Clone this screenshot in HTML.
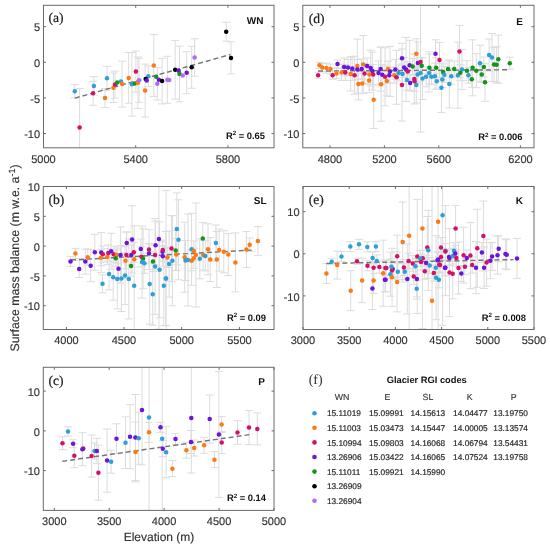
<!DOCTYPE html><html><head><meta charset="utf-8"><style>html,body{margin:0;padding:0;background:#fff;width:550px;height:548px;overflow:hidden}svg{display:block;will-change:transform;text-rendering:geometricPrecision}</style></head><body>
<svg width="550" height="548" viewBox="0 0 550 548">
<rect width="550" height="548" fill="#fff"/>
<path d="M74.8 84.6V98.0M70.8 84.6h8M70.8 98.0h8M79.6 88.5V147.8M75.6 88.5h8M93.9 76.7V95.1M89.9 76.7h8M89.9 95.1h8M93.1 81.3V105.3M89.1 81.3h8M89.1 105.3h8M107.0 66.3V90.3M103.0 66.3h8M103.0 90.3h8M105.0 88.6V107.6M101.0 88.6h8M101.0 107.6h8M113.4 73.1V102.5M109.4 73.1h8M109.4 102.5h8M115.0 71.1V98.1M111.0 71.1h8M111.0 98.1h8M122.1 61.1V107.1M118.1 61.1h8M118.1 107.1h8M128.7 52.5V103.3M124.7 52.5h8M124.7 103.3h8M135.9 51.0V92.2M131.9 51.0h8M131.9 92.2h8M131.9 52.5V116.1M127.9 52.5h8M127.9 116.1h8M137.9 57.0V108.4M133.9 57.0h8M133.9 108.4h8M139.0 58.3V102.3M135.0 58.3h8M135.0 102.3h8M145.1 64.1V117.1M141.1 64.1h8M141.1 117.1h8M148.3 66.0V86.6M144.3 66.0h8M144.3 86.6h8M153.8 34.6V96.6M149.8 34.6h8M149.8 96.6h8M157.3 67.6V100.0M153.3 67.6h8M153.3 100.0h8M162.1 58.3V103.9M158.1 58.3h8M158.1 103.9h8M167.3 56.3V103.3M163.3 56.3h8M163.3 103.3h8M175.2 40.4V99.0M171.2 40.4h8M171.2 99.0h8M179.5 46.2V101.8M175.5 46.2h8M175.5 101.8h8M186.7 51.7V93.7M182.7 51.7h8M182.7 93.7h8M191.7 46.3V88.3M187.7 46.3h8M187.7 88.3h8M194.6 38.8V76.2M190.6 38.8h8M190.6 76.2h8M226.2 22.2V41.2M222.2 22.2h8M222.2 41.2h8M231.0 41.9V73.9M227.0 41.9h8M227.0 73.9h8" stroke="#dcdcdc" stroke-width="1" fill="none"/>
<line x1="74.8" y1="98.1" x2="230.5" y2="54.5" stroke="#767676" stroke-width="1.45" stroke-dasharray="5 3"/>
<circle cx="74.8" cy="91.3" r="2.25" fill="#2f9fd6"/>
<circle cx="79.6" cy="127.5" r="2.25" fill="#d0126c"/>
<circle cx="93.9" cy="85.9" r="2.25" fill="#2f9fd6"/>
<circle cx="93.1" cy="93.3" r="2.25" fill="#d0126c"/>
<circle cx="107.0" cy="78.3" r="2.25" fill="#2f9fd6"/>
<circle cx="105.0" cy="98.1" r="2.25" fill="#fa7a14"/>
<circle cx="113.4" cy="87.8" r="2.25" fill="#fa7a14"/>
<circle cx="115.0" cy="84.6" r="2.25" fill="#d0126c"/>
<circle cx="117.2" cy="82.5" r="2.25" fill="#14941a"/>
<circle cx="120.9" cy="81.4" r="2.25" fill="#2f9fd6"/>
<circle cx="122.1" cy="84.1" r="2.25" fill="#fa7a14"/>
<circle cx="128.7" cy="77.9" r="2.25" fill="#fa7a14"/>
<circle cx="135.9" cy="71.6" r="2.25" fill="#d0126c"/>
<circle cx="131.9" cy="84.3" r="2.25" fill="#2f9fd6"/>
<circle cx="134.8" cy="83.5" r="2.25" fill="#14941a"/>
<circle cx="137.9" cy="82.7" r="2.25" fill="#fa7a14"/>
<circle cx="139.0" cy="80.3" r="2.25" fill="#b06cf8"/>
<circle cx="145.1" cy="90.6" r="2.25" fill="#fa7a14"/>
<circle cx="148.3" cy="76.3" r="2.25" fill="#2f9fd6"/>
<circle cx="145.7" cy="79.0" r="2.25" fill="#000000"/>
<circle cx="146.7" cy="80.6" r="2.25" fill="#6a14dc"/>
<circle cx="153.8" cy="65.6" r="2.25" fill="#fa7a14"/>
<circle cx="156.2" cy="76.8" r="2.25" fill="#14941a"/>
<circle cx="157.3" cy="83.8" r="2.25" fill="#b06cf8"/>
<circle cx="158.9" cy="79.8" r="2.25" fill="#6a14dc"/>
<circle cx="162.1" cy="81.1" r="2.25" fill="#000000"/>
<circle cx="167.3" cy="79.8" r="2.25" fill="#b06cf8"/>
<circle cx="169.2" cy="80.0" r="2.25" fill="#b06cf8"/>
<circle cx="175.2" cy="69.7" r="2.25" fill="#000000"/>
<circle cx="178.7" cy="70.8" r="2.25" fill="#6a14dc"/>
<circle cx="179.5" cy="74.0" r="2.25" fill="#14941a"/>
<circle cx="182.7" cy="75.6" r="2.25" fill="#b06cf8"/>
<circle cx="186.7" cy="72.7" r="2.25" fill="#6a14dc"/>
<circle cx="191.7" cy="67.3" r="2.25" fill="#000000"/>
<circle cx="194.6" cy="57.5" r="2.25" fill="#b06cf8"/>
<circle cx="226.2" cy="31.7" r="2.25" fill="#000000"/>
<circle cx="231.0" cy="57.9" r="2.25" fill="#000000"/>
<rect x="43.5" y="5.3" width="230.5" height="142.5" fill="none" stroke="#6a6a6a" stroke-width="1"/>
<path d="M43.5 147.8v-2.5M43.5 5.3v2.5M135.7 147.8v-2.5M135.7 5.3v2.5M227.9 147.8v-2.5M227.9 5.3v2.5M43.5 26.7h2.5M274 26.7h-2.5M43.5 62.3h2.5M274 62.3h-2.5M43.5 97.9h2.5M274 97.9h-2.5M43.5 133.6h2.5M274 133.6h-2.5" stroke="#6a6a6a" stroke-width="1"/>
<text x="43.5" y="163.1" font-family='"Liberation Sans", sans-serif' font-size="11" fill="#333" stroke="#333" stroke-width="0.15" text-anchor="middle">5000</text>
<text x="135.7" y="163.1" font-family='"Liberation Sans", sans-serif' font-size="11" fill="#333" stroke="#333" stroke-width="0.15" text-anchor="middle">5400</text>
<text x="227.9" y="163.1" font-family='"Liberation Sans", sans-serif' font-size="11" fill="#333" stroke="#333" stroke-width="0.15" text-anchor="middle">5800</text>
<text x="40.1" y="31.3" font-family='"Liberation Sans", sans-serif' font-size="11" fill="#333" stroke="#333" stroke-width="0.15" text-anchor="end">5</text>
<text x="40.1" y="66.9" font-family='"Liberation Sans", sans-serif' font-size="11" fill="#333" stroke="#333" stroke-width="0.15" text-anchor="end">0</text>
<text x="40.1" y="102.5" font-family='"Liberation Sans", sans-serif' font-size="11" fill="#333" stroke="#333" stroke-width="0.15" text-anchor="end">-5</text>
<text x="40.1" y="138.2" font-family='"Liberation Sans", sans-serif' font-size="11" fill="#333" stroke="#333" stroke-width="0.15" text-anchor="end">-10</text>
<text x="48.4" y="22" font-family='"Liberation Serif", serif' font-size="13.6" fill="#222" stroke="#222" stroke-width="0.2">(a)</text>
<text x="263.5" y="24.3" font-family='"Liberation Sans", sans-serif' font-size="10" font-weight="bold" fill="#111" text-anchor="end">WN</text>
<text x="265" y="138.5" font-family='"Liberation Sans", sans-serif' font-size="9.35" font-weight="bold" fill="#111" text-anchor="end">R<tspan font-size="6.2" dy="-3.3">2</tspan><tspan dy="3.3"> = 0.65</tspan></text>
<path d="M318.1 72.2V78.2M314.1 72.2h8M314.1 78.2h8M319.5 62.3V68.3M315.5 62.3h8M315.5 68.3h8M322.3 63.5V71.5M318.3 63.5h8M318.3 71.5h8M326.4 63.1V73.1M322.4 63.1h8M322.4 73.1h8M330.5 64.1V74.1M326.5 64.1h8M326.5 74.1h8M332.6 71.2V79.2M328.6 71.2h8M328.6 79.2h8M337.5 60.0V68.0M333.5 60.0h8M333.5 68.0h8M336.5 68.5V78.5M332.5 68.5h8M332.5 78.5h8M341.5 64.4V80.4M337.5 64.4h8M337.5 80.4h8M344.1 58.0V76.0M340.1 58.0h8M340.1 76.0h8M348.0 59.5V75.5M344.0 59.5h8M344.0 75.5h8M345.3 64.4V80.4M341.3 64.4h8M341.3 80.4h8M352.3 56.6V80.6M348.3 56.6h8M348.3 80.6h8M350.7 57.0V91.0M346.7 57.0h8M346.7 91.0h8M354.6 56.2V94.2M350.6 56.2h8M350.6 94.2h8M357.3 39.1V93.1M353.3 39.1h8M353.3 93.1h8M357.3 59.4V79.4M353.3 59.4h8M353.3 79.4h8M361.7 59.1V79.1M357.7 59.1h8M357.7 79.1h8M358.4 67.9V99.9M354.4 67.9h8M354.4 99.9h8M362.2 73.4V93.4M358.2 73.4h8M358.2 93.4h8M363.3 35.5V93.5M359.3 35.5h8M359.3 93.5h8M364.5 63.5V83.5M360.5 63.5h8M360.5 83.5h8M367.1 58.1V74.1M363.1 58.1h8M363.1 74.1h8M370.7 50.1V86.1M366.7 50.1h8M366.7 86.1h8M372.4 52.1V90.1M368.4 52.1h8M368.4 90.1h8M369.1 68.6V92.6M365.1 68.6h8M365.1 92.6h8M369.4 64.4V84.4M365.4 64.4h8M365.4 84.4h8M373.7 71.2V128.4M369.7 71.2h8M369.7 128.4h8M373.2 64.4V84.4M369.2 64.4h8M369.2 84.4h8M378.5 61.0V85.0M374.5 61.0h8M374.5 85.0h8M380.6 47.1V91.1M376.6 47.1h8M376.6 91.1h8M382.3 64.7V84.7M378.3 64.7h8M378.3 84.7h8M385.0 47.8V105.8M381.0 47.8h8M381.0 105.8h8M381.1 47.2V121.2M377.1 47.2h8M377.1 121.2h8M386.9 65.9V95.9M382.9 65.9h8M382.9 95.9h8M388.0 61.1V77.1M384.0 61.1h8M384.0 77.1h8M390.0 46.4V96.4M386.0 46.4h8M386.0 96.4h8M389.3 67.2V83.2M385.3 67.2h8M385.3 83.2h8M394.2 67.2V83.2M390.2 67.2h8M390.2 83.2h8M396.5 50.3V104.3M392.5 50.3h8M392.5 104.3h8M395.4 59.4V79.4M391.4 59.4h8M391.4 79.4h8M398.7 65.0V81.0M394.7 65.0h8M394.7 81.0h8M402.5 64.0V84.0M398.5 64.0h8M398.5 84.0h8M402.0 43.3V73.3M398.0 43.3h8M398.0 73.3h8M402.0 49.0V121.0M398.0 49.0h8M398.0 121.0h8M404.1 57.5V77.5M400.1 57.5h8M400.1 77.5h8M406.1 37.4V101.4M402.1 37.4h8M402.1 101.4h8M407.7 61.4V81.4M403.7 61.4h8M403.7 81.4h8M406.9 70.1V90.1M402.9 70.1h8M402.9 90.1h8M409.7 40.3V90.3M405.7 40.3h8M405.7 90.3h8M412.7 58.5V74.5M408.7 58.5h8M408.7 74.5h8M414.3 54.0V104.0M410.3 54.0h8M410.3 104.0h8M414.6 71.3V91.3M410.6 71.3h8M410.6 91.3h8M410.2 74.9V90.9M406.2 74.9h8M406.2 90.9h8M416.3 67.0V103.0M412.3 67.0h8M412.3 103.0h8M416.3 38.8V68.8M412.3 38.8h8M412.3 68.8h8M417.9 41.9V83.9M413.9 41.9h8M413.9 83.9h8M420.5 5.3V132.0M416.5 132.0h8M421.7 57.8V73.8M417.7 57.8h8M417.7 73.8h8M417.6 66.4V82.4M413.6 66.4h8M413.6 82.4h8M420.5 65.0V81.0M416.5 65.0h8M416.5 81.0h8M422.5 57.5V99.5M418.5 57.5h8M418.5 99.5h8M426.1 66.8V86.8M422.1 66.8h8M422.1 86.8h8M429.4 51.8V83.8M425.4 51.8h8M425.4 83.8h8M429.1 54.0V92.0M425.1 54.0h8M425.1 92.0h8M431.5 68.8V84.8M427.5 68.8h8M427.5 84.8h8M435.5 39.8V67.8M431.5 39.8h8M431.5 67.8h8M439.5 42.4V77.4M435.5 42.4h8M435.5 77.4h8M436.2 57.8V77.8M432.2 57.8h8M432.2 77.8h8M434.9 63.3V89.3M430.9 63.3h8M430.9 89.3h8M436.8 73.3V89.3M432.8 73.3h8M432.8 89.3h8M441.4 63.2V112.4M437.4 63.2h8M437.4 112.4h8M442.3 71.6V87.6M438.3 71.6h8M438.3 87.6h8M443.1 63.9V79.9M439.1 63.9h8M439.1 79.9h8M444.4 66.7V82.7M440.4 66.7h8M440.4 82.7h8M448.0 61.1V77.1M444.0 61.1h8M444.0 77.1h8M454.2 61.1V77.1M450.2 61.1h8M450.2 77.1h8M449.3 59.9V107.9M445.3 59.9h8M445.3 107.9h8M451.3 68.3V84.3M447.3 68.3h8M447.3 84.3h8M459.5 25.4V77.4M455.5 25.4h8M455.5 77.4h8M457.9 42.2V108.2M453.9 42.2h8M453.9 108.2h8M462.0 49.4V89.4M458.0 49.4h8M458.0 89.4h8M460.3 64.7V80.7M456.3 64.7h8M456.3 80.7h8M466.9 60.7V80.7M462.9 60.7h8M462.9 80.7h8M468.5 67.2V83.2M464.5 67.2h8M464.5 83.2h8M472.6 39.8V95.8M468.6 39.8h8M468.6 95.8h8M476.3 53.7V87.7M472.3 53.7h8M472.3 87.7h8M471.8 71.3V87.3M467.8 71.3h8M467.8 87.3h8M480.0 45.2V81.2M476.0 45.2h8M476.0 81.2h8M483.8 57.0V77.0M479.8 57.0h8M479.8 77.0h8M481.7 66.4V82.4M477.7 66.4h8M477.7 82.4h8M485.0 63.3V101.3M481.0 63.3h8M481.0 101.3h8M489.1 39.0V71.0M485.1 39.0h8M485.1 71.0h8M492.0 33.6V81.6M488.0 33.6h8M488.0 81.6h8M494.0 47.5V81.5M490.0 47.5h8M490.0 81.5h8M496.6 46.8V82.8M492.6 46.8h8M492.6 82.8h8M498.3 35.2V83.2M494.3 35.2h8M494.3 83.2h8M509.8 57.2V69.2M505.8 57.2h8M505.8 69.2h8" stroke="#dcdcdc" stroke-width="1" fill="none"/>
<line x1="318" y1="71" x2="509.4" y2="69.8" stroke="#767676" stroke-width="1.45" stroke-dasharray="5 3"/>
<circle cx="318.1" cy="75.2" r="2.25" fill="#d0126c"/>
<circle cx="319.5" cy="65.3" r="2.25" fill="#fa7a14"/>
<circle cx="322.3" cy="67.5" r="2.25" fill="#fa7a14"/>
<circle cx="326.4" cy="68.1" r="2.25" fill="#fa7a14"/>
<circle cx="330.5" cy="69.1" r="2.25" fill="#fa7a14"/>
<circle cx="332.6" cy="75.2" r="2.25" fill="#d0126c"/>
<circle cx="337.5" cy="64.0" r="2.25" fill="#6a14dc"/>
<circle cx="336.5" cy="73.5" r="2.25" fill="#fa7a14"/>
<circle cx="341.5" cy="72.4" r="2.25" fill="#fa7a14"/>
<circle cx="344.1" cy="67.0" r="2.25" fill="#6a14dc"/>
<circle cx="348.0" cy="67.5" r="2.25" fill="#6a14dc"/>
<circle cx="345.3" cy="72.4" r="2.25" fill="#d0126c"/>
<circle cx="352.3" cy="68.6" r="2.25" fill="#6a14dc"/>
<circle cx="350.7" cy="74.0" r="2.25" fill="#fa7a14"/>
<circle cx="354.6" cy="75.2" r="2.25" fill="#d0126c"/>
<circle cx="357.3" cy="66.1" r="2.25" fill="#fa7a14"/>
<circle cx="357.3" cy="69.4" r="2.25" fill="#6a14dc"/>
<circle cx="361.7" cy="69.1" r="2.25" fill="#6a14dc"/>
<circle cx="358.4" cy="83.9" r="2.25" fill="#fa7a14"/>
<circle cx="362.2" cy="83.4" r="2.25" fill="#fa7a14"/>
<circle cx="363.3" cy="64.5" r="2.25" fill="#fa7a14"/>
<circle cx="364.5" cy="73.5" r="2.25" fill="#d0126c"/>
<circle cx="367.1" cy="66.1" r="2.25" fill="#6a14dc"/>
<circle cx="370.7" cy="68.1" r="2.25" fill="#6a14dc"/>
<circle cx="372.4" cy="71.1" r="2.25" fill="#6a14dc"/>
<circle cx="369.1" cy="80.6" r="2.25" fill="#fa7a14"/>
<circle cx="369.4" cy="74.4" r="2.25" fill="#fa7a14"/>
<circle cx="373.7" cy="99.8" r="2.25" fill="#fa7a14"/>
<circle cx="373.2" cy="74.4" r="2.25" fill="#d0126c"/>
<circle cx="378.5" cy="73.0" r="2.25" fill="#6a14dc"/>
<circle cx="380.6" cy="69.1" r="2.25" fill="#6a14dc"/>
<circle cx="382.3" cy="74.7" r="2.25" fill="#6a14dc"/>
<circle cx="385.0" cy="76.8" r="2.25" fill="#d0126c"/>
<circle cx="381.1" cy="84.2" r="2.25" fill="#fa7a14"/>
<circle cx="386.9" cy="80.9" r="2.25" fill="#fa7a14"/>
<circle cx="388.0" cy="69.1" r="2.25" fill="#fa7a14"/>
<circle cx="390.0" cy="71.4" r="2.25" fill="#6a14dc"/>
<circle cx="389.3" cy="75.2" r="2.25" fill="#6a14dc"/>
<circle cx="394.2" cy="75.2" r="2.25" fill="#fa7a14"/>
<circle cx="396.5" cy="77.3" r="2.25" fill="#d0126c"/>
<circle cx="395.4" cy="69.4" r="2.25" fill="#6a14dc"/>
<circle cx="398.7" cy="73.0" r="2.25" fill="#2f9fd6"/>
<circle cx="402.5" cy="74.0" r="2.25" fill="#2f9fd6"/>
<circle cx="402.0" cy="58.3" r="2.25" fill="#6a14dc"/>
<circle cx="402.0" cy="85.0" r="2.25" fill="#d0126c"/>
<circle cx="404.1" cy="67.5" r="2.25" fill="#6a14dc"/>
<circle cx="406.1" cy="69.4" r="2.25" fill="#6a14dc"/>
<circle cx="407.7" cy="71.4" r="2.25" fill="#d0126c"/>
<circle cx="406.9" cy="80.1" r="2.25" fill="#2f9fd6"/>
<circle cx="409.7" cy="65.3" r="2.25" fill="#6a14dc"/>
<circle cx="412.7" cy="66.5" r="2.25" fill="#14941a"/>
<circle cx="414.3" cy="79.0" r="2.25" fill="#d0126c"/>
<circle cx="414.6" cy="81.3" r="2.25" fill="#d0126c"/>
<circle cx="410.2" cy="82.9" r="2.25" fill="#6a14dc"/>
<circle cx="416.3" cy="85.0" r="2.25" fill="#2f9fd6"/>
<circle cx="416.3" cy="53.8" r="2.25" fill="#fa7a14"/>
<circle cx="417.9" cy="62.9" r="2.25" fill="#6a14dc"/>
<circle cx="420.5" cy="62.0" r="2.25" fill="#d0126c"/>
<circle cx="421.7" cy="65.8" r="2.25" fill="#14941a"/>
<circle cx="417.6" cy="74.4" r="2.25" fill="#2f9fd6"/>
<circle cx="420.5" cy="73.0" r="2.25" fill="#2f9fd6"/>
<circle cx="422.5" cy="78.5" r="2.25" fill="#2f9fd6"/>
<circle cx="426.1" cy="76.8" r="2.25" fill="#2f9fd6"/>
<circle cx="429.4" cy="67.8" r="2.25" fill="#14941a"/>
<circle cx="429.1" cy="73.0" r="2.25" fill="#2f9fd6"/>
<circle cx="431.5" cy="76.8" r="2.25" fill="#2f9fd6"/>
<circle cx="435.5" cy="53.8" r="2.25" fill="#6a14dc"/>
<circle cx="439.5" cy="59.9" r="2.25" fill="#d0126c"/>
<circle cx="436.2" cy="67.8" r="2.25" fill="#14941a"/>
<circle cx="434.9" cy="76.3" r="2.25" fill="#2f9fd6"/>
<circle cx="436.8" cy="81.3" r="2.25" fill="#2f9fd6"/>
<circle cx="441.4" cy="87.8" r="2.25" fill="#2f9fd6"/>
<circle cx="442.3" cy="79.6" r="2.25" fill="#2f9fd6"/>
<circle cx="443.1" cy="71.9" r="2.25" fill="#14941a"/>
<circle cx="444.4" cy="74.7" r="2.25" fill="#2f9fd6"/>
<circle cx="448.0" cy="69.1" r="2.25" fill="#14941a"/>
<circle cx="454.2" cy="69.1" r="2.25" fill="#14941a"/>
<circle cx="449.3" cy="83.9" r="2.25" fill="#2f9fd6"/>
<circle cx="451.3" cy="76.3" r="2.25" fill="#2f9fd6"/>
<circle cx="459.5" cy="51.4" r="2.25" fill="#d0126c"/>
<circle cx="457.9" cy="75.2" r="2.25" fill="#2f9fd6"/>
<circle cx="462.0" cy="69.4" r="2.25" fill="#2f9fd6"/>
<circle cx="460.3" cy="72.7" r="2.25" fill="#14941a"/>
<circle cx="466.9" cy="70.7" r="2.25" fill="#14941a"/>
<circle cx="468.5" cy="75.2" r="2.25" fill="#2f9fd6"/>
<circle cx="472.6" cy="67.8" r="2.25" fill="#14941a"/>
<circle cx="476.3" cy="70.7" r="2.25" fill="#14941a"/>
<circle cx="471.8" cy="79.3" r="2.25" fill="#14941a"/>
<circle cx="480.0" cy="63.2" r="2.25" fill="#2f9fd6"/>
<circle cx="483.8" cy="67.0" r="2.25" fill="#14941a"/>
<circle cx="481.7" cy="74.4" r="2.25" fill="#14941a"/>
<circle cx="485.0" cy="82.3" r="2.25" fill="#14941a"/>
<circle cx="489.1" cy="55.0" r="2.25" fill="#2f9fd6"/>
<circle cx="492.0" cy="57.6" r="2.25" fill="#2f9fd6"/>
<circle cx="494.0" cy="64.5" r="2.25" fill="#14941a"/>
<circle cx="496.6" cy="64.8" r="2.25" fill="#14941a"/>
<circle cx="498.3" cy="59.2" r="2.25" fill="#14941a"/>
<circle cx="509.8" cy="63.2" r="2.25" fill="#14941a"/>
<rect x="302.8" y="5.3" width="231.2" height="142.5" fill="none" stroke="#6a6a6a" stroke-width="1"/>
<path d="M330.0 147.8v-2.5M330.0 5.3v2.5M384.4 147.8v-2.5M384.4 5.3v2.5M438.8 147.8v-2.5M438.8 5.3v2.5M520.4 147.8v-2.5M520.4 5.3v2.5M302.8 26.7h2.5M534 26.7h-2.5M302.8 62.3h2.5M534 62.3h-2.5M302.8 97.9h2.5M534 97.9h-2.5M302.8 133.6h2.5M534 133.6h-2.5" stroke="#6a6a6a" stroke-width="1"/>
<text x="330.0" y="162.7" font-family='"Liberation Sans", sans-serif' font-size="11" fill="#333" stroke="#333" stroke-width="0.15" text-anchor="middle">4800</text>
<text x="384.4" y="162.7" font-family='"Liberation Sans", sans-serif' font-size="11" fill="#333" stroke="#333" stroke-width="0.15" text-anchor="middle">5200</text>
<text x="438.8" y="162.7" font-family='"Liberation Sans", sans-serif' font-size="11" fill="#333" stroke="#333" stroke-width="0.15" text-anchor="middle">5600</text>
<text x="520.4" y="162.7" font-family='"Liberation Sans", sans-serif' font-size="11" fill="#333" stroke="#333" stroke-width="0.15" text-anchor="middle">6200</text>
<text x="299.4" y="31.3" font-family='"Liberation Sans", sans-serif' font-size="11" fill="#333" stroke="#333" stroke-width="0.15" text-anchor="end">5</text>
<text x="299.4" y="66.9" font-family='"Liberation Sans", sans-serif' font-size="11" fill="#333" stroke="#333" stroke-width="0.15" text-anchor="end">0</text>
<text x="299.4" y="102.5" font-family='"Liberation Sans", sans-serif' font-size="11" fill="#333" stroke="#333" stroke-width="0.15" text-anchor="end">-5</text>
<text x="299.4" y="138.2" font-family='"Liberation Sans", sans-serif' font-size="11" fill="#333" stroke="#333" stroke-width="0.15" text-anchor="end">-10</text>
<text x="308.8" y="23" font-family='"Liberation Serif", serif' font-size="13.6" fill="#222" stroke="#222" stroke-width="0.2">(d)</text>
<text x="523" y="24.8" font-family='"Liberation Sans", sans-serif' font-size="10" font-weight="bold" fill="#111" text-anchor="end">E</text>
<text x="522.5" y="140.0" font-family='"Liberation Sans", sans-serif' font-size="9.35" font-weight="bold" fill="#111" text-anchor="end">R<tspan font-size="6.2" dy="-3.3">2</tspan><tspan dy="3.3"> = 0.006</tspan></text>
<path d="M70.5 256.6V266.6M66.5 256.6h8M66.5 266.6h8M75.4 248.4V258.4M71.4 248.4h8M71.4 258.4h8M79.2 260.5V277.5M75.2 260.5h8M75.2 277.5h8M87.7 249.2V265.2M83.7 249.2h8M83.7 265.2h8M85.3 249.1V274.1M81.3 249.1h8M81.3 274.1h8M90.7 249.7V281.7M86.7 249.7h8M86.7 281.7h8M94.8 234.3V270.3M90.8 234.3h8M90.8 270.3h8M101.2 232.6V272.6M97.2 232.6h8M97.2 272.6h8M102.8 246.2V262.2M98.8 246.2h8M98.8 262.2h8M100.9 249.8V265.8M96.9 249.8h8M96.9 265.8h8M102.5 274.8V292.8M98.5 274.8h8M98.5 292.8h8M107.4 248.7V264.7M103.4 248.7h8M103.4 264.7h8M108.3 244.9V260.9M104.3 244.9h8M104.3 260.9h8M111.1 233.3V269.3M107.1 233.3h8M107.1 269.3h8M113.7 246.2V262.2M109.7 246.2h8M109.7 262.2h8M109.1 257.9V289.9M105.1 257.9h8M105.1 289.9h8M113.2 254.2V300.2M109.2 254.2h8M109.2 300.2h8M116.8 247.0V263.0M112.8 247.0h8M112.8 263.0h8M120.6 227.0V283.0M116.6 227.0h8M116.6 283.0h8M115.7 250.3V266.3M111.7 250.3h8M111.7 266.3h8M118.5 258.7V278.7M114.5 258.7h8M114.5 278.7h8M117.3 248.9V308.9M113.3 248.9h8M113.3 308.9h8M121.4 245.5V311.5M117.4 245.5h8M117.4 311.5h8M125.0 246.6V304.6M121.0 246.6h8M121.0 304.6h8M128.8 238.9V318.9M124.8 238.9h8M124.8 318.9h8M134.2 225.8V329.5M130.2 225.8h8M126.7 232.0V254.0M122.7 232.0h8M122.7 254.0h8M132.1 205.8V273.0M128.1 205.8h8M128.1 273.0h8M126.4 232.0V278.0M122.4 232.0h8M122.4 278.0h8M131.3 245.0V265.0M127.3 245.0h8M127.3 265.0h8M133.8 242.3V262.3M129.8 242.3h8M129.8 262.3h8M125.5 252.8V268.8M121.5 252.8h8M121.5 268.8h8M134.2 251.2V267.2M130.2 251.2h8M130.2 267.2h8M131.0 256.1V276.1M127.0 256.1h8M127.0 276.1h8M140.8 239.0V259.0M136.8 239.0h8M136.8 259.0h8M141.5 246.7V266.7M137.5 246.7h8M137.5 266.7h8M143.1 228.8V288.8M139.1 228.8h8M139.1 288.8h8M144.4 253.3V273.3M140.4 253.3h8M140.4 273.3h8M142.0 226.1V298.1M138.0 226.1h8M138.0 298.1h8M149.0 229.6V269.6M145.0 229.6h8M145.0 269.6h8M149.0 243.4V263.4M145.0 243.4h8M145.0 263.4h8M155.6 221.2V269.2M151.6 221.2h8M151.6 269.2h8M158.9 186.5V329.1M154.9 329.1h8M155.1 245.0V265.0M151.1 245.0h8M151.1 265.0h8M162.5 241.8V261.8M158.5 241.8h8M158.5 261.8h8M162.8 240.1V260.1M158.8 240.1h8M158.8 260.1h8M162.8 246.2V266.2M158.8 246.2h8M158.8 266.2h8M167.4 247.5V267.5M163.4 247.5h8M163.4 267.5h8M171.5 215.5V281.5M167.5 215.5h8M167.5 281.5h8M153.0 251.6V271.6M149.0 251.6h8M149.0 271.6h8M155.1 218.5V314.5M151.1 218.5h8M151.1 314.5h8M159.6 221.8V317.8M155.6 221.8h8M155.6 317.8h8M169.1 231.1V297.1M165.1 231.1h8M165.1 297.1h8M172.4 215.8V305.8M168.4 215.8h8M168.4 305.8h8M165.8 231.5V325.5M161.8 231.5h8M161.8 325.5h8M149.7 244.1V324.1M145.7 244.1h8M145.7 324.1h8M163.8 245.8V325.8M159.8 245.8h8M159.8 325.8h8M152.7 263.3V325.3M148.7 263.3h8M148.7 325.3h8M176.8 192.9V264.9M172.8 192.9h8M172.8 264.9h8M178.5 199.8V279.8M174.5 199.8h8M174.5 279.8h8M166.1 190.5V329.5M162.1 190.5h8M175.7 230.6V270.6M171.7 230.6h8M171.7 270.6h8M176.2 238.6V270.6M172.2 238.6h8M172.2 270.6h8M184.7 222.2V292.2M180.7 222.2h8M180.7 292.2h8M185.5 240.5V280.5M181.5 240.5h8M181.5 280.5h8M188.0 214.0V306.0M184.0 214.0h8M184.0 306.0h8M191.6 213.3V285.3M187.6 213.3h8M187.6 285.3h8M193.8 240.9V260.9M189.8 240.9h8M189.8 260.9h8M195.9 203.0V307.0M191.9 203.0h8M191.9 307.0h8M193.8 248.3V268.3M189.8 248.3h8M189.8 268.3h8M191.6 250.8V270.8M187.6 250.8h8M187.6 270.8h8M199.8 238.8V278.8M195.8 238.8h8M195.8 278.8h8M202.8 222.6V254.6M198.8 222.6h8M198.8 254.6h8M203.1 240.0V270.0M199.1 240.0h8M199.1 270.0h8M205.3 240.9V270.9M201.3 240.9h8M201.3 270.9h8M208.0 223.8V274.8M204.0 223.8h8M204.0 274.8h8M210.2 237.5V281.5M206.2 237.5h8M206.2 281.5h8M215.9 225.0V261.0M211.9 225.0h8M211.9 261.0h8M216.8 231.5V287.5M212.8 231.5h8M212.8 287.5h8M219.2 229.1V271.1M215.2 229.1h8M215.2 271.1h8M223.8 230.8V272.8M219.8 230.8h8M219.8 272.8h8M228.3 233.6V275.6M224.3 233.6h8M224.3 275.6h8M235.4 232.9V291.9M231.4 232.9h8M231.4 291.9h8M246.4 231.6V267.6M242.4 231.6h8M242.4 267.6h8M249.7 238.0V251.4M245.7 238.0h8M245.7 251.4h8M257.9 226.6V255.6M253.9 226.6h8M253.9 255.6h8" stroke="#dcdcdc" stroke-width="1" fill="none"/>
<line x1="71" y1="260" x2="254" y2="250" stroke="#767676" stroke-width="1.45" stroke-dasharray="5 3"/>
<circle cx="70.5" cy="261.6" r="2.25" fill="#6a14dc"/>
<circle cx="75.4" cy="253.4" r="2.25" fill="#fa7a14"/>
<circle cx="79.2" cy="269.0" r="2.25" fill="#6a14dc"/>
<circle cx="87.7" cy="257.2" r="2.25" fill="#fa7a14"/>
<circle cx="85.3" cy="261.6" r="2.25" fill="#6a14dc"/>
<circle cx="90.7" cy="265.7" r="2.25" fill="#6a14dc"/>
<circle cx="94.8" cy="252.3" r="2.25" fill="#6a14dc"/>
<circle cx="101.2" cy="252.6" r="2.25" fill="#6a14dc"/>
<circle cx="102.8" cy="254.2" r="2.25" fill="#d0126c"/>
<circle cx="100.9" cy="257.8" r="2.25" fill="#fa7a14"/>
<circle cx="102.5" cy="283.8" r="2.25" fill="#2f9fd6"/>
<circle cx="107.4" cy="256.7" r="2.25" fill="#fa7a14"/>
<circle cx="108.3" cy="252.9" r="2.25" fill="#d0126c"/>
<circle cx="111.1" cy="251.3" r="2.25" fill="#6a14dc"/>
<circle cx="113.7" cy="254.2" r="2.25" fill="#d0126c"/>
<circle cx="109.1" cy="273.9" r="2.25" fill="#2f9fd6"/>
<circle cx="113.2" cy="277.2" r="2.25" fill="#2f9fd6"/>
<circle cx="116.8" cy="255.0" r="2.25" fill="#fa7a14"/>
<circle cx="120.6" cy="255.0" r="2.25" fill="#6a14dc"/>
<circle cx="115.7" cy="258.3" r="2.25" fill="#14941a"/>
<circle cx="118.5" cy="268.7" r="2.25" fill="#6a14dc"/>
<circle cx="117.3" cy="278.9" r="2.25" fill="#2f9fd6"/>
<circle cx="121.4" cy="278.5" r="2.25" fill="#2f9fd6"/>
<circle cx="125.0" cy="275.6" r="2.25" fill="#2f9fd6"/>
<circle cx="128.8" cy="278.9" r="2.25" fill="#2f9fd6"/>
<circle cx="134.2" cy="285.8" r="2.25" fill="#2f9fd6"/>
<circle cx="126.7" cy="243.0" r="2.25" fill="#6a14dc"/>
<circle cx="132.1" cy="239.4" r="2.25" fill="#6a14dc"/>
<circle cx="126.4" cy="255.0" r="2.25" fill="#d0126c"/>
<circle cx="131.3" cy="255.0" r="2.25" fill="#6a14dc"/>
<circle cx="133.8" cy="252.3" r="2.25" fill="#d0126c"/>
<circle cx="125.5" cy="260.8" r="2.25" fill="#fa7a14"/>
<circle cx="134.2" cy="259.2" r="2.25" fill="#fa7a14"/>
<circle cx="131.0" cy="266.1" r="2.25" fill="#14941a"/>
<circle cx="140.8" cy="249.0" r="2.25" fill="#6a14dc"/>
<circle cx="141.5" cy="256.7" r="2.25" fill="#d0126c"/>
<circle cx="143.1" cy="258.8" r="2.25" fill="#14941a"/>
<circle cx="144.4" cy="263.3" r="2.25" fill="#2f9fd6"/>
<circle cx="142.0" cy="262.1" r="2.25" fill="#2f9fd6"/>
<circle cx="149.0" cy="249.6" r="2.25" fill="#d0126c"/>
<circle cx="149.0" cy="253.4" r="2.25" fill="#6a14dc"/>
<circle cx="155.6" cy="245.2" r="2.25" fill="#6a14dc"/>
<circle cx="158.9" cy="239.1" r="2.25" fill="#6a14dc"/>
<circle cx="155.1" cy="255.0" r="2.25" fill="#d0126c"/>
<circle cx="162.5" cy="251.8" r="2.25" fill="#6a14dc"/>
<circle cx="162.8" cy="250.1" r="2.25" fill="#d0126c"/>
<circle cx="162.8" cy="256.2" r="2.25" fill="#6a14dc"/>
<circle cx="167.4" cy="257.5" r="2.25" fill="#fa7a14"/>
<circle cx="171.5" cy="248.5" r="2.25" fill="#d0126c"/>
<circle cx="153.0" cy="261.6" r="2.25" fill="#14941a"/>
<circle cx="155.1" cy="266.5" r="2.25" fill="#2f9fd6"/>
<circle cx="159.6" cy="269.8" r="2.25" fill="#2f9fd6"/>
<circle cx="169.1" cy="264.1" r="2.25" fill="#2f9fd6"/>
<circle cx="172.4" cy="260.8" r="2.25" fill="#2f9fd6"/>
<circle cx="165.8" cy="278.5" r="2.25" fill="#2f9fd6"/>
<circle cx="149.7" cy="284.1" r="2.25" fill="#2f9fd6"/>
<circle cx="163.8" cy="285.8" r="2.25" fill="#2f9fd6"/>
<circle cx="152.7" cy="294.3" r="2.25" fill="#2f9fd6"/>
<circle cx="176.8" cy="228.9" r="2.25" fill="#2f9fd6"/>
<circle cx="178.5" cy="239.8" r="2.25" fill="#2f9fd6"/>
<circle cx="166.1" cy="278.5" r="2.25" fill="#2f9fd6"/>
<circle cx="175.7" cy="250.6" r="2.25" fill="#14941a"/>
<circle cx="176.2" cy="254.6" r="2.25" fill="#fa7a14"/>
<circle cx="184.7" cy="257.2" r="2.25" fill="#fa7a14"/>
<circle cx="185.5" cy="260.5" r="2.25" fill="#2f9fd6"/>
<circle cx="188.0" cy="260.0" r="2.25" fill="#2f9fd6"/>
<circle cx="191.6" cy="249.3" r="2.25" fill="#2f9fd6"/>
<circle cx="193.8" cy="250.9" r="2.25" fill="#fa7a14"/>
<circle cx="195.9" cy="255.0" r="2.25" fill="#fa7a14"/>
<circle cx="193.8" cy="258.3" r="2.25" fill="#fa7a14"/>
<circle cx="191.6" cy="260.8" r="2.25" fill="#fa7a14"/>
<circle cx="199.8" cy="258.8" r="2.25" fill="#2f9fd6"/>
<circle cx="202.8" cy="238.6" r="2.25" fill="#14941a"/>
<circle cx="203.1" cy="255.0" r="2.25" fill="#fa7a14"/>
<circle cx="205.3" cy="255.9" r="2.25" fill="#2f9fd6"/>
<circle cx="208.0" cy="249.3" r="2.25" fill="#fa7a14"/>
<circle cx="210.2" cy="259.5" r="2.25" fill="#fa7a14"/>
<circle cx="215.9" cy="243.0" r="2.25" fill="#2f9fd6"/>
<circle cx="216.8" cy="259.5" r="2.25" fill="#fa7a14"/>
<circle cx="219.2" cy="250.1" r="2.25" fill="#fa7a14"/>
<circle cx="223.8" cy="251.8" r="2.25" fill="#fa7a14"/>
<circle cx="228.3" cy="254.6" r="2.25" fill="#fa7a14"/>
<circle cx="235.4" cy="262.4" r="2.25" fill="#fa7a14"/>
<circle cx="246.4" cy="249.6" r="2.25" fill="#fa7a14"/>
<circle cx="249.7" cy="244.7" r="2.25" fill="#fa7a14"/>
<circle cx="257.9" cy="241.1" r="2.25" fill="#fa7a14"/>
<rect x="43.3" y="186.5" width="230.7" height="143.0" fill="none" stroke="#6a6a6a" stroke-width="1"/>
<path d="M66.4 329.5v-2.5M66.4 186.5v2.5M124.0 329.5v-2.5M124.0 186.5v2.5M181.7 329.5v-2.5M181.7 186.5v2.5M239.4 329.5v-2.5M239.4 186.5v2.5M43.3 186.5h2.5M274 186.5h-2.5M43.3 216.3h2.5M274 216.3h-2.5M43.3 246.1h2.5M274 246.1h-2.5M43.3 275.9h2.5M274 275.9h-2.5M43.3 305.7h2.5M274 305.7h-2.5" stroke="#6a6a6a" stroke-width="1"/>
<text x="66.4" y="344.4" font-family='"Liberation Sans", sans-serif' font-size="11" fill="#333" stroke="#333" stroke-width="0.15" text-anchor="middle">4000</text>
<text x="124.0" y="344.4" font-family='"Liberation Sans", sans-serif' font-size="11" fill="#333" stroke="#333" stroke-width="0.15" text-anchor="middle">4500</text>
<text x="181.7" y="344.4" font-family='"Liberation Sans", sans-serif' font-size="11" fill="#333" stroke="#333" stroke-width="0.15" text-anchor="middle">5000</text>
<text x="239.4" y="344.4" font-family='"Liberation Sans", sans-serif' font-size="11" fill="#333" stroke="#333" stroke-width="0.15" text-anchor="middle">5500</text>
<text x="39.9" y="191.1" font-family='"Liberation Sans", sans-serif' font-size="11" fill="#333" stroke="#333" stroke-width="0.15" text-anchor="end">10</text>
<text x="39.9" y="220.9" font-family='"Liberation Sans", sans-serif' font-size="11" fill="#333" stroke="#333" stroke-width="0.15" text-anchor="end">5</text>
<text x="39.9" y="250.7" font-family='"Liberation Sans", sans-serif' font-size="11" fill="#333" stroke="#333" stroke-width="0.15" text-anchor="end">0</text>
<text x="39.9" y="280.5" font-family='"Liberation Sans", sans-serif' font-size="11" fill="#333" stroke="#333" stroke-width="0.15" text-anchor="end">-5</text>
<text x="39.9" y="310.3" font-family='"Liberation Sans", sans-serif' font-size="11" fill="#333" stroke="#333" stroke-width="0.15" text-anchor="end">-10</text>
<text x="48.4" y="204" font-family='"Liberation Serif", serif' font-size="13.6" fill="#222" stroke="#222" stroke-width="0.2">(b)</text>
<text x="266.5" y="203.5" font-family='"Liberation Sans", sans-serif' font-size="10" font-weight="bold" fill="#111" text-anchor="end">SL</text>
<text x="266" y="320.5" font-family='"Liberation Sans", sans-serif' font-size="9.35" font-weight="bold" fill="#111" text-anchor="end">R<tspan font-size="6.2" dy="-3.3">2</tspan><tspan dy="3.3"> = 0.09</tspan></text>
<path d="M326.4 263.4V283.4M322.4 263.4h8M322.4 283.4h8M331.7 258.7V264.7M327.7 258.7h8M327.7 264.7h8M337.2 251.1V279.1M333.2 251.1h8M333.2 279.1h8M341.5 251.6V261.6M337.5 251.6h8M337.5 261.6h8M350.3 241.6V251.6M346.3 241.6h8M346.3 251.6h8M359.0 239.3V249.3M355.0 239.3h8M355.0 249.3h8M367.3 241.9V251.9M363.3 241.9h8M363.3 251.9h8M375.9 241.6V251.6M371.9 241.6h8M371.9 251.6h8M350.7 270.7V310.7M346.7 270.7h8M346.7 310.7h8M357.0 258.3V264.3M353.0 258.3h8M353.0 264.3h8M362.1 258.1V302.7M358.1 258.1h8M358.1 302.7h8M367.5 260.8V270.8M363.5 260.8h8M363.5 270.8h8M373.6 261.7V273.7M369.6 261.7h8M369.6 273.7h8M379.4 261.0V273.0M375.4 261.0h8M375.4 273.0h8M385.4 259.9V275.9M381.4 259.9h8M381.4 275.9h8M372.6 252.1V264.1M368.6 252.1h8M368.6 264.1h8M376.8 254.9V266.9M372.8 254.9h8M372.8 266.9h8M373.6 267.4V293.4M369.6 267.4h8M369.6 293.4h8M372.4 267.5V309.5M368.4 267.5h8M368.4 309.5h8M383.2 240.2V306.2M379.2 240.2h8M379.2 306.2h8M384.9 267.8V291.8M380.9 267.8h8M380.9 291.8h8M402.7 202.1V282.1M398.7 202.1h8M398.7 282.1h8M409.1 186.5V329.5M422.4 186.5V328.6M418.4 328.6h8M438.1 186.5V329.5M442.6 186.5V325.3M438.6 325.3h8M397.2 235.2V277.2M393.2 235.2h8M393.2 277.2h8M427.3 216.5V278.5M423.3 216.5h8M423.3 278.5h8M428.3 210.3V290.3M424.3 210.3h8M424.3 290.3h8M441.0 237.5V257.5M437.0 237.5h8M437.0 257.5h8M445.4 205.7V295.7M441.4 205.7h8M441.4 295.7h8M445.4 243.6V259.6M441.4 243.6h8M441.4 259.6h8M441.0 249.0V265.0M437.0 249.0h8M437.0 265.0h8M417.3 199.4V313.4M413.3 199.4h8M413.3 313.4h8M422.8 250.3V266.3M418.8 250.3h8M418.8 266.3h8M438.1 251.6V267.6M434.1 251.6h8M434.1 267.6h8M449.0 249.0V265.0M445.0 249.0h8M445.0 265.0h8M420.1 250.5V266.5M416.1 250.5h8M416.1 266.5h8M408.6 253.1V269.1M404.6 253.1h8M404.6 269.1h8M412.8 255.6V271.6M408.8 255.6h8M408.8 271.6h8M415.4 258.2V274.2M411.4 258.2h8M411.4 274.2h8M421.0 254.0V270.0M417.0 254.0h8M417.0 270.0h8M426.1 255.0V271.0M422.1 255.0h8M422.1 271.0h8M429.7 257.5V273.5M425.7 257.5h8M425.7 273.5h8M437.6 252.2V268.2M433.6 252.2h8M433.6 268.2h8M449.5 249.9V265.9M445.5 249.9h8M445.5 265.9h8M452.7 248.0V264.0M448.7 248.0h8M448.7 264.0h8M386.3 260.1V276.1M382.3 260.1h8M382.3 276.1h8M392.7 261.1V277.1M388.7 261.1h8M388.7 277.1h8M392.0 262.4V278.4M388.0 262.4h8M388.0 278.4h8M391.4 258.8V274.8M387.4 258.8h8M387.4 274.8h8M397.8 263.7V279.7M393.8 263.7h8M393.8 279.7h8M403.9 259.5V275.5M399.9 259.5h8M399.9 275.5h8M404.8 263.7V279.7M400.8 263.7h8M400.8 279.7h8M390.4 252.2V296.2M386.4 252.2h8M386.4 296.2h8M392.0 248.3V306.3M388.0 248.3h8M388.0 306.3h8M397.1 251.9V311.9M393.1 251.9h8M393.1 311.9h8M385.6 267.8V291.8M381.6 267.8h8M381.6 291.8h8M407.3 244.0V314.0M403.3 244.0h8M403.3 314.0h8M413.7 268.4V284.4M409.7 268.4h8M409.7 284.4h8M416.9 259.0V299.0M412.9 259.0h8M412.9 299.0h8M416.7 280.8V296.8M412.7 280.8h8M412.7 296.8h8M424.8 263.3V279.3M420.8 263.3h8M420.8 279.3h8M433.8 265.0V281.0M429.8 265.0h8M429.8 281.0h8M435.8 259.8V275.8M431.8 259.8h8M431.8 275.8h8M439.3 256.5V272.5M435.3 256.5h8M435.3 272.5h8M445.0 259.8V275.8M441.0 259.8h8M441.0 275.8h8M449.5 228.6V316.6M445.5 228.6h8M445.5 316.6h8M452.7 248.8V298.8M448.7 248.8h8M448.7 298.8h8M436.1 235.7V319.7M432.1 235.7h8M432.1 319.7h8M438.9 271.8V287.8M434.9 271.8h8M434.9 287.8h8M432.0 186.5V329.5M455.6 205.4V251.4M451.6 205.4h8M451.6 251.4h8M483.4 201.0V271.0M479.4 201.0h8M479.4 271.0h8M454.0 242.8V258.8M450.0 242.8h8M450.0 258.8h8M455.3 245.6V261.6M451.3 245.6h8M451.3 261.6h8M456.3 250.1V266.1M452.3 250.1h8M452.3 266.1h8M463.6 227.2V283.2M459.6 227.2h8M459.6 283.2h8M466.8 250.1V266.1M462.8 250.1h8M462.8 266.1h8M470.4 222.6V288.6M466.4 222.6h8M466.4 288.6h8M477.3 209.3V287.3M473.3 209.3h8M473.3 287.3h8M481.9 242.6V262.6M477.9 242.6h8M477.9 262.6h8M492.1 242.4V270.4M488.1 242.4h8M488.1 270.4h8M490.4 242.7V278.7M486.4 242.7h8M486.4 278.7h8M486.6 239.0V286.2M482.6 239.0h8M482.6 286.2h8M498.7 235.8V261.8M494.7 235.8h8M494.7 261.8h8M497.5 236.2V274.2M493.5 236.2h8M493.5 274.2h8M505.4 238.9V268.9M501.4 238.9h8M501.4 268.9h8M506.7 239.7V269.7M502.7 239.7h8M502.7 269.7h8M440.0 257.1V273.1M436.0 257.1h8M436.0 273.1h8M445.4 259.7V275.7M441.4 259.7h8M441.4 275.7h8M458.5 242.0V294.0M454.5 242.0h8M454.5 294.0h8M461.3 265.5V281.5M457.3 265.5h8M457.3 281.5h8M464.9 258.7V274.7M460.9 258.7h8M460.9 274.7h8M472.2 257.1V273.1M468.2 257.1h8M468.2 273.1h8M476.0 241.7V293.7M472.0 241.7h8M472.0 293.7h8M484.1 246.9V288.5M480.1 246.9h8M480.1 288.5h8M517.0 238.4V278.4M513.0 238.4h8M513.0 278.4h8" stroke="#dcdcdc" stroke-width="1" fill="none"/>
<line x1="326.4" y1="263.5" x2="513.4" y2="259.6" stroke="#767676" stroke-width="1.45" stroke-dasharray="5 3"/>
<circle cx="326.4" cy="273.4" r="2.25" fill="#fa7a14"/>
<circle cx="331.7" cy="261.7" r="2.25" fill="#2f9fd6"/>
<circle cx="337.2" cy="265.1" r="2.25" fill="#fa7a14"/>
<circle cx="341.5" cy="256.6" r="2.25" fill="#2f9fd6"/>
<circle cx="350.3" cy="246.6" r="2.25" fill="#2f9fd6"/>
<circle cx="359.0" cy="244.3" r="2.25" fill="#2f9fd6"/>
<circle cx="367.3" cy="246.9" r="2.25" fill="#2f9fd6"/>
<circle cx="375.9" cy="246.6" r="2.25" fill="#2f9fd6"/>
<circle cx="350.7" cy="290.7" r="2.25" fill="#fa7a14"/>
<circle cx="357.0" cy="261.3" r="2.25" fill="#d0126c"/>
<circle cx="362.1" cy="280.4" r="2.25" fill="#fa7a14"/>
<circle cx="367.5" cy="265.8" r="2.25" fill="#d0126c"/>
<circle cx="373.6" cy="267.7" r="2.25" fill="#d0126c"/>
<circle cx="379.4" cy="267.0" r="2.25" fill="#d0126c"/>
<circle cx="385.4" cy="267.9" r="2.25" fill="#d0126c"/>
<circle cx="372.6" cy="258.1" r="2.25" fill="#2f9fd6"/>
<circle cx="376.8" cy="260.9" r="2.25" fill="#2f9fd6"/>
<circle cx="373.6" cy="280.4" r="2.25" fill="#fa7a14"/>
<circle cx="372.4" cy="288.5" r="2.25" fill="#6a14dc"/>
<circle cx="383.2" cy="273.2" r="2.25" fill="#fa7a14"/>
<circle cx="384.9" cy="279.8" r="2.25" fill="#6a14dc"/>
<circle cx="402.7" cy="242.1" r="2.25" fill="#fa7a14"/>
<circle cx="409.1" cy="235.7" r="2.25" fill="#fa7a14"/>
<circle cx="422.4" cy="228.6" r="2.25" fill="#fa7a14"/>
<circle cx="438.1" cy="221.7" r="2.25" fill="#fa7a14"/>
<circle cx="442.6" cy="215.3" r="2.25" fill="#2f9fd6"/>
<circle cx="397.2" cy="256.2" r="2.25" fill="#d0126c"/>
<circle cx="427.3" cy="247.5" r="2.25" fill="#d0126c"/>
<circle cx="428.3" cy="250.3" r="2.25" fill="#2f9fd6"/>
<circle cx="441.0" cy="247.5" r="2.25" fill="#d0126c"/>
<circle cx="445.4" cy="250.7" r="2.25" fill="#2f9fd6"/>
<circle cx="445.4" cy="251.6" r="2.25" fill="#d0126c"/>
<circle cx="441.0" cy="257.0" r="2.25" fill="#d0126c"/>
<circle cx="417.3" cy="256.4" r="2.25" fill="#d0126c"/>
<circle cx="422.8" cy="258.3" r="2.25" fill="#d0126c"/>
<circle cx="438.1" cy="259.6" r="2.25" fill="#6a14dc"/>
<circle cx="449.0" cy="257.0" r="2.25" fill="#6a14dc"/>
<circle cx="420.1" cy="258.5" r="2.25" fill="#2f9fd6"/>
<circle cx="408.6" cy="261.1" r="2.25" fill="#d0126c"/>
<circle cx="412.8" cy="263.6" r="2.25" fill="#d0126c"/>
<circle cx="415.4" cy="266.2" r="2.25" fill="#2f9fd6"/>
<circle cx="421.0" cy="262.0" r="2.25" fill="#d0126c"/>
<circle cx="426.1" cy="263.0" r="2.25" fill="#6a14dc"/>
<circle cx="429.7" cy="265.5" r="2.25" fill="#2f9fd6"/>
<circle cx="437.6" cy="260.2" r="2.25" fill="#6a14dc"/>
<circle cx="449.5" cy="257.9" r="2.25" fill="#6a14dc"/>
<circle cx="452.7" cy="256.0" r="2.25" fill="#2f9fd6"/>
<circle cx="386.3" cy="268.1" r="2.25" fill="#d0126c"/>
<circle cx="392.7" cy="269.1" r="2.25" fill="#6a14dc"/>
<circle cx="392.0" cy="270.4" r="2.25" fill="#d0126c"/>
<circle cx="391.4" cy="266.8" r="2.25" fill="#2f9fd6"/>
<circle cx="397.8" cy="271.7" r="2.25" fill="#2f9fd6"/>
<circle cx="403.9" cy="267.5" r="2.25" fill="#d0126c"/>
<circle cx="404.8" cy="271.7" r="2.25" fill="#2f9fd6"/>
<circle cx="390.4" cy="274.2" r="2.25" fill="#2f9fd6"/>
<circle cx="392.0" cy="277.3" r="2.25" fill="#fa7a14"/>
<circle cx="397.1" cy="281.9" r="2.25" fill="#fa7a14"/>
<circle cx="385.6" cy="279.8" r="2.25" fill="#6a14dc"/>
<circle cx="407.3" cy="279.0" r="2.25" fill="#6a14dc"/>
<circle cx="413.7" cy="276.4" r="2.25" fill="#d0126c"/>
<circle cx="416.9" cy="279.0" r="2.25" fill="#6a14dc"/>
<circle cx="416.7" cy="288.8" r="2.25" fill="#2f9fd6"/>
<circle cx="424.8" cy="271.3" r="2.25" fill="#d0126c"/>
<circle cx="433.8" cy="273.0" r="2.25" fill="#d0126c"/>
<circle cx="435.8" cy="267.8" r="2.25" fill="#2f9fd6"/>
<circle cx="439.3" cy="264.5" r="2.25" fill="#d0126c"/>
<circle cx="445.0" cy="267.8" r="2.25" fill="#6a14dc"/>
<circle cx="449.5" cy="272.6" r="2.25" fill="#d0126c"/>
<circle cx="452.7" cy="273.8" r="2.25" fill="#d0126c"/>
<circle cx="436.1" cy="277.7" r="2.25" fill="#2f9fd6"/>
<circle cx="438.9" cy="279.8" r="2.25" fill="#2f9fd6"/>
<circle cx="432.0" cy="300.7" r="2.25" fill="#fa7a14"/>
<circle cx="455.6" cy="228.4" r="2.25" fill="#d0126c"/>
<circle cx="483.4" cy="236.0" r="2.25" fill="#d0126c"/>
<circle cx="454.0" cy="250.8" r="2.25" fill="#2f9fd6"/>
<circle cx="455.3" cy="253.6" r="2.25" fill="#6a14dc"/>
<circle cx="456.3" cy="258.1" r="2.25" fill="#d0126c"/>
<circle cx="463.6" cy="255.2" r="2.25" fill="#d0126c"/>
<circle cx="466.8" cy="258.1" r="2.25" fill="#6a14dc"/>
<circle cx="470.4" cy="255.6" r="2.25" fill="#d0126c"/>
<circle cx="477.3" cy="248.3" r="2.25" fill="#d0126c"/>
<circle cx="481.9" cy="252.6" r="2.25" fill="#6a14dc"/>
<circle cx="492.1" cy="256.4" r="2.25" fill="#6a14dc"/>
<circle cx="490.4" cy="260.7" r="2.25" fill="#6a14dc"/>
<circle cx="486.6" cy="262.6" r="2.25" fill="#d0126c"/>
<circle cx="498.7" cy="248.8" r="2.25" fill="#6a14dc"/>
<circle cx="497.5" cy="255.2" r="2.25" fill="#6a14dc"/>
<circle cx="505.4" cy="253.9" r="2.25" fill="#6a14dc"/>
<circle cx="506.7" cy="254.7" r="2.25" fill="#6a14dc"/>
<circle cx="440.0" cy="265.1" r="2.25" fill="#d0126c"/>
<circle cx="445.4" cy="267.7" r="2.25" fill="#6a14dc"/>
<circle cx="458.5" cy="268.0" r="2.25" fill="#d0126c"/>
<circle cx="461.3" cy="273.5" r="2.25" fill="#6a14dc"/>
<circle cx="464.9" cy="266.7" r="2.25" fill="#d0126c"/>
<circle cx="472.2" cy="265.1" r="2.25" fill="#d0126c"/>
<circle cx="476.0" cy="267.7" r="2.25" fill="#6a14dc"/>
<circle cx="484.1" cy="267.7" r="2.25" fill="#6a14dc"/>
<circle cx="517.0" cy="258.4" r="2.25" fill="#6a14dc"/>
<rect x="303" y="186.5" width="231.0" height="143.0" fill="none" stroke="#6a6a6a" stroke-width="1"/>
<path d="M303.0 329.5v-2.5M303.0 186.5v2.5M349.2 329.5v-2.5M349.2 186.5v2.5M395.4 329.5v-2.5M395.4 186.5v2.5M441.6 329.5v-2.5M441.6 186.5v2.5M487.8 329.5v-2.5M487.8 186.5v2.5M534.0 329.5v-2.5M534.0 186.5v2.5M303 211.7h2.5M534 211.7h-2.5M303 253.8h2.5M534 253.8h-2.5M303 295.9h2.5M534 295.9h-2.5" stroke="#6a6a6a" stroke-width="1"/>
<text x="303.0" y="344.4" font-family='"Liberation Sans", sans-serif' font-size="11" fill="#333" stroke="#333" stroke-width="0.15" text-anchor="middle">3000</text>
<text x="349.2" y="344.4" font-family='"Liberation Sans", sans-serif' font-size="11" fill="#333" stroke="#333" stroke-width="0.15" text-anchor="middle">3500</text>
<text x="395.4" y="344.4" font-family='"Liberation Sans", sans-serif' font-size="11" fill="#333" stroke="#333" stroke-width="0.15" text-anchor="middle">4000</text>
<text x="441.6" y="344.4" font-family='"Liberation Sans", sans-serif' font-size="11" fill="#333" stroke="#333" stroke-width="0.15" text-anchor="middle">4500</text>
<text x="487.8" y="344.4" font-family='"Liberation Sans", sans-serif' font-size="11" fill="#333" stroke="#333" stroke-width="0.15" text-anchor="middle">5000</text>
<text x="534.0" y="344.4" font-family='"Liberation Sans", sans-serif' font-size="11" fill="#333" stroke="#333" stroke-width="0.15" text-anchor="middle">5500</text>
<text x="299.6" y="216.3" font-family='"Liberation Sans", sans-serif' font-size="11" fill="#333" stroke="#333" stroke-width="0.15" text-anchor="end">10</text>
<text x="299.6" y="258.4" font-family='"Liberation Sans", sans-serif' font-size="11" fill="#333" stroke="#333" stroke-width="0.15" text-anchor="end">0</text>
<text x="299.6" y="300.5" font-family='"Liberation Sans", sans-serif' font-size="11" fill="#333" stroke="#333" stroke-width="0.15" text-anchor="end">-10</text>
<text x="308.8" y="204" font-family='"Liberation Serif", serif' font-size="13.6" fill="#222" stroke="#222" stroke-width="0.2">(e)</text>
<text x="523" y="203.5" font-family='"Liberation Sans", sans-serif' font-size="10" font-weight="bold" fill="#111" text-anchor="end">K</text>
<text x="526" y="320.5" font-family='"Liberation Sans", sans-serif' font-size="9.35" font-weight="bold" fill="#111" text-anchor="end">R<tspan font-size="6.2" dy="-3.3">2</tspan><tspan dy="3.3"> = 0.008</tspan></text>
<path d="M68.0 426.8V436.0M64.0 426.8h8M64.0 436.0h8M62.5 436.8V449.8M58.5 436.8h8M58.5 449.8h8M73.1 439.8V447.8M69.1 439.8h8M69.1 447.8h8M74.3 443.7V467.7M70.3 443.7h8M70.3 467.7h8M82.4 432.7V465.7M78.4 432.7h8M78.4 465.7h8M91.6 435.0V477.0M87.6 435.0h8M87.6 477.0h8M94.5 443.0V459.0M90.5 443.0h8M90.5 459.0h8M96.8 438.3V463.7M92.8 438.3h8M92.8 463.7h8M98.4 445.2V500.2M94.4 445.2h8M94.4 500.2h8M107.1 429.0V492.2M103.1 429.0h8M103.1 492.2h8M111.1 450.4V473.2M107.1 450.4h8M107.1 473.2h8M116.5 423.8V453.8M112.5 423.8h8M112.5 453.8h8M125.5 416.9V468.5M121.5 416.9h8M121.5 468.5h8M130.0 404.7V468.7M126.0 404.7h8M126.0 468.7h8M135.4 394.5V480.5M131.4 394.5h8M131.4 480.5h8M138.7 412.3V464.3M134.7 412.3h8M134.7 464.3h8M135.5 422.0V482.0M131.5 422.0h8M131.5 482.0h8M142.0 367.3V464.9M138.0 464.9h8M149.0 367.3V510.4M149.0 422.3V442.3M145.0 422.3h8M145.0 442.3h8M160.5 422.3V432.3M156.5 422.3h8M156.5 432.3h8M162.2 367.3V510.4M162.8 440.7V456.7M158.8 440.7h8M158.8 456.7h8M166.1 426.7V477.7M162.1 426.7h8M162.1 477.7h8M172.4 460.7V476.7M168.4 460.7h8M168.4 476.7h8M175.5 433.4V444.8M171.5 433.4h8M171.5 444.8h8M191.3 367.3V473.0M187.3 473.0h8M191.0 430.5V453.5M187.0 430.5h8M187.0 453.5h8M186.4 442.2V458.2M182.4 442.2h8M182.4 458.2h8M194.2 440.0V456.0M190.2 440.0h8M190.2 456.0h8M204.1 437.3V453.3M200.1 437.3h8M200.1 453.3h8M209.7 395.0V443.0M205.7 395.0h8M205.7 443.0h8M221.6 416.6V432.6M217.6 416.6h8M217.6 432.6h8M218.9 371.4V497.4M214.9 371.4h8M214.9 497.4h8M221.7 431.6V453.6M217.7 431.6h8M217.7 453.6h8M214.4 451.7V467.7M210.4 451.7h8M210.4 467.7h8M237.5 420.7V444.3M233.5 420.7h8M233.5 444.3h8M249.0 410.6V444.6M245.0 410.6h8M245.0 444.6h8M257.3 412.9V444.9M253.3 412.9h8M253.3 444.9h8" stroke="#dcdcdc" stroke-width="1" fill="none"/>
<line x1="62.3" y1="461.3" x2="252.6" y2="434.2" stroke="#767676" stroke-width="1.45" stroke-dasharray="5 3"/>
<circle cx="68.0" cy="431.4" r="2.25" fill="#2f9fd6"/>
<circle cx="62.5" cy="443.3" r="2.25" fill="#d0126c"/>
<circle cx="73.1" cy="443.8" r="2.25" fill="#6a14dc"/>
<circle cx="74.3" cy="455.7" r="2.25" fill="#d0126c"/>
<circle cx="83.3" cy="448.6" r="2.25" fill="#d0126c"/>
<circle cx="82.4" cy="449.2" r="2.25" fill="#6a14dc"/>
<circle cx="91.6" cy="456.0" r="2.25" fill="#d0126c"/>
<circle cx="94.5" cy="451.0" r="2.25" fill="#2f9fd6"/>
<circle cx="96.8" cy="451.0" r="2.25" fill="#6a14dc"/>
<circle cx="98.4" cy="472.7" r="2.25" fill="#d0126c"/>
<circle cx="107.1" cy="460.6" r="2.25" fill="#6a14dc"/>
<circle cx="111.1" cy="461.8" r="2.25" fill="#2f9fd6"/>
<circle cx="116.5" cy="438.8" r="2.25" fill="#6a14dc"/>
<circle cx="125.5" cy="442.7" r="2.25" fill="#2f9fd6"/>
<circle cx="130.0" cy="436.7" r="2.25" fill="#6a14dc"/>
<circle cx="135.4" cy="437.5" r="2.25" fill="#6a14dc"/>
<circle cx="138.7" cy="438.3" r="2.25" fill="#2f9fd6"/>
<circle cx="135.5" cy="452.0" r="2.25" fill="#fa7a14"/>
<circle cx="142.0" cy="409.9" r="2.25" fill="#6a14dc"/>
<circle cx="149.0" cy="417.5" r="2.25" fill="#2f9fd6"/>
<circle cx="149.0" cy="432.3" r="2.25" fill="#fa7a14"/>
<circle cx="160.5" cy="427.3" r="2.25" fill="#6a14dc"/>
<circle cx="162.2" cy="438.8" r="2.25" fill="#2f9fd6"/>
<circle cx="162.8" cy="448.7" r="2.25" fill="#6a14dc"/>
<circle cx="166.1" cy="452.2" r="2.25" fill="#2f9fd6"/>
<circle cx="172.4" cy="468.7" r="2.25" fill="#fa7a14"/>
<circle cx="175.5" cy="439.1" r="2.25" fill="#6a14dc"/>
<circle cx="191.3" cy="418.0" r="2.25" fill="#6a14dc"/>
<circle cx="191.0" cy="442.0" r="2.25" fill="#6a14dc"/>
<circle cx="186.4" cy="450.2" r="2.25" fill="#fa7a14"/>
<circle cx="194.2" cy="448.0" r="2.25" fill="#fa7a14"/>
<circle cx="204.1" cy="445.3" r="2.25" fill="#fa7a14"/>
<circle cx="209.7" cy="419.0" r="2.25" fill="#6a14dc"/>
<circle cx="221.6" cy="424.6" r="2.25" fill="#fa7a14"/>
<circle cx="218.9" cy="434.4" r="2.25" fill="#6a14dc"/>
<circle cx="221.7" cy="442.6" r="2.25" fill="#d0126c"/>
<circle cx="214.4" cy="459.7" r="2.25" fill="#fa7a14"/>
<circle cx="237.5" cy="432.5" r="2.25" fill="#d0126c"/>
<circle cx="249.0" cy="427.6" r="2.25" fill="#d0126c"/>
<circle cx="257.3" cy="428.9" r="2.25" fill="#d0126c"/>
<rect x="43.3" y="367.3" width="230.7" height="143.1" fill="none" stroke="#6a6a6a" stroke-width="1"/>
<path d="M54.3 510.4v-2.5M54.3 367.3v2.5M109.2 510.4v-2.5M109.2 367.3v2.5M164.1 510.4v-2.5M164.1 367.3v2.5M219.1 510.4v-2.5M219.1 367.3v2.5M274.0 510.4v-2.5M274.0 367.3v2.5M43.3 391.1h2.5M274 391.1h-2.5M43.3 430.9h2.5M274 430.9h-2.5M43.3 470.6h2.5M274 470.6h-2.5" stroke="#6a6a6a" stroke-width="1"/>
<text x="54.3" y="525.3" font-family='"Liberation Sans", sans-serif' font-size="11" fill="#333" stroke="#333" stroke-width="0.15" text-anchor="middle">3000</text>
<text x="109.2" y="525.3" font-family='"Liberation Sans", sans-serif' font-size="11" fill="#333" stroke="#333" stroke-width="0.15" text-anchor="middle">3500</text>
<text x="164.1" y="525.3" font-family='"Liberation Sans", sans-serif' font-size="11" fill="#333" stroke="#333" stroke-width="0.15" text-anchor="middle">4000</text>
<text x="219.1" y="525.3" font-family='"Liberation Sans", sans-serif' font-size="11" fill="#333" stroke="#333" stroke-width="0.15" text-anchor="middle">4500</text>
<text x="274.0" y="525.3" font-family='"Liberation Sans", sans-serif' font-size="11" fill="#333" stroke="#333" stroke-width="0.15" text-anchor="middle">5000</text>
<text x="39.9" y="395.8" font-family='"Liberation Sans", sans-serif' font-size="11" fill="#333" stroke="#333" stroke-width="0.15" text-anchor="end">10</text>
<text x="39.9" y="435.5" font-family='"Liberation Sans", sans-serif' font-size="11" fill="#333" stroke="#333" stroke-width="0.15" text-anchor="end">0</text>
<text x="39.9" y="475.2" font-family='"Liberation Sans", sans-serif' font-size="11" fill="#333" stroke="#333" stroke-width="0.15" text-anchor="end">-10</text>
<text x="48.4" y="385" font-family='"Liberation Serif", serif' font-size="13.6" fill="#222" stroke="#222" stroke-width="0.2">(c)</text>
<text x="265" y="384.7" font-family='"Liberation Sans", sans-serif' font-size="10" font-weight="bold" fill="#111" text-anchor="end">P</text>
<text x="266" y="500.9" font-family='"Liberation Sans", sans-serif' font-size="9.35" font-weight="bold" fill="#111" text-anchor="end">R<tspan font-size="6.2" dy="-3.3">2</tspan><tspan dy="3.3"> = 0.14</tspan></text>
<text x="0" y="0" transform="translate(19.3 258) rotate(-90)" font-family='"Liberation Sans", sans-serif' font-size="12.3" fill="#333" stroke="#333" stroke-width="0.15" text-anchor="middle">Surface mass balance (m w.e. a<tspan dy="-4.5" font-size="9">-1</tspan><tspan dy="4.5">)</tspan></text>
<text x="159" y="540.7" font-family='"Liberation Sans", sans-serif' font-size="12" fill="#333" stroke="#333" stroke-width="0.15" text-anchor="middle">Elevation (m)</text>
<text x="308.7" y="384" font-family='"Liberation Serif", serif' font-size="14" fill="#333">(f)</text>
<text x="386.7" y="382.7" font-family='"Liberation Sans", sans-serif' font-size="9.3" font-weight="bold" fill="#111">Glacier RGI codes</text>
<text x="342" y="400.2" font-family='"Liberation Sans", sans-serif' font-size="8.8" fill="#333" stroke="#333" stroke-width="0.12" text-anchor="middle">WN</text>
<text x="387.4" y="400.2" font-family='"Liberation Sans", sans-serif' font-size="8.8" fill="#333" stroke="#333" stroke-width="0.12" text-anchor="middle">E</text>
<text x="428" y="400.2" font-family='"Liberation Sans", sans-serif' font-size="8.8" fill="#333" stroke="#333" stroke-width="0.12" text-anchor="middle">SL</text>
<text x="469.7" y="400.2" font-family='"Liberation Sans", sans-serif' font-size="8.8" fill="#333" stroke="#333" stroke-width="0.12" text-anchor="middle">K</text>
<text x="513.6" y="400.2" font-family='"Liberation Sans", sans-serif' font-size="8.8" fill="#333" stroke="#333" stroke-width="0.12" text-anchor="middle">P</text>
<circle cx="314.5" cy="413.2" r="2.3" fill="#2f9fd6"/>
<circle cx="314.5" cy="427.8" r="2.3" fill="#fa7a14"/>
<circle cx="314.5" cy="442.4" r="2.3" fill="#d0126c"/>
<circle cx="314.5" cy="457.0" r="2.3" fill="#6a14dc"/>
<circle cx="314.5" cy="471.6" r="2.3" fill="#14941a"/>
<circle cx="314.5" cy="486.2" r="2.3" fill="#000000"/>
<circle cx="314.5" cy="500.8" r="2.3" fill="#b06cf8"/>
<text x="326.9" y="416.4" font-family='"Liberation Sans", sans-serif' font-size="8.3" fill="#262626" stroke="#262626" stroke-width="0.18">15.11019</text>
<text x="326.9" y="431.0" font-family='"Liberation Sans", sans-serif' font-size="8.3" fill="#262626" stroke="#262626" stroke-width="0.18">15.11003</text>
<text x="326.9" y="445.6" font-family='"Liberation Sans", sans-serif' font-size="8.3" fill="#262626" stroke="#262626" stroke-width="0.18">15.10994</text>
<text x="326.9" y="460.2" font-family='"Liberation Sans", sans-serif' font-size="8.3" fill="#262626" stroke="#262626" stroke-width="0.18">13.26906</text>
<text x="326.9" y="474.8" font-family='"Liberation Sans", sans-serif' font-size="8.3" fill="#262626" stroke="#262626" stroke-width="0.18">15.11011</text>
<text x="326.9" y="489.4" font-family='"Liberation Sans", sans-serif' font-size="8.3" fill="#262626" stroke="#262626" stroke-width="0.18">13.26909</text>
<text x="326.9" y="504.0" font-family='"Liberation Sans", sans-serif' font-size="8.3" fill="#262626" stroke="#262626" stroke-width="0.18">13.26904</text>
<text x="369.0" y="416.4" font-family='"Liberation Sans", sans-serif' font-size="8.3" fill="#262626" stroke="#262626" stroke-width="0.18">15.09991</text>
<text x="369.0" y="431.0" font-family='"Liberation Sans", sans-serif' font-size="8.3" fill="#262626" stroke="#262626" stroke-width="0.18">15.03473</text>
<text x="369.0" y="445.6" font-family='"Liberation Sans", sans-serif' font-size="8.3" fill="#262626" stroke="#262626" stroke-width="0.18">15.09803</text>
<text x="369.0" y="460.2" font-family='"Liberation Sans", sans-serif' font-size="8.3" fill="#262626" stroke="#262626" stroke-width="0.18">15.03422</text>
<text x="369.0" y="474.8" font-family='"Liberation Sans", sans-serif' font-size="8.3" fill="#262626" stroke="#262626" stroke-width="0.18">15.09921</text>
<text x="410.6" y="416.4" font-family='"Liberation Sans", sans-serif' font-size="8.3" fill="#262626" stroke="#262626" stroke-width="0.18">14.15613</text>
<text x="410.6" y="431.0" font-family='"Liberation Sans", sans-serif' font-size="8.3" fill="#262626" stroke="#262626" stroke-width="0.18">14.15447</text>
<text x="410.6" y="445.6" font-family='"Liberation Sans", sans-serif' font-size="8.3" fill="#262626" stroke="#262626" stroke-width="0.18">14.16068</text>
<text x="410.6" y="460.2" font-family='"Liberation Sans", sans-serif' font-size="8.3" fill="#262626" stroke="#262626" stroke-width="0.18">14.16065</text>
<text x="410.6" y="474.8" font-family='"Liberation Sans", sans-serif' font-size="8.3" fill="#262626" stroke="#262626" stroke-width="0.18">14.15990</text>
<text x="453.1" y="416.4" font-family='"Liberation Sans", sans-serif' font-size="8.3" fill="#262626" stroke="#262626" stroke-width="0.18">14.04477</text>
<text x="453.1" y="431.0" font-family='"Liberation Sans", sans-serif' font-size="8.3" fill="#262626" stroke="#262626" stroke-width="0.18">14.00005</text>
<text x="453.1" y="445.6" font-family='"Liberation Sans", sans-serif' font-size="8.3" fill="#262626" stroke="#262626" stroke-width="0.18">14.06794</text>
<text x="453.1" y="460.2" font-family='"Liberation Sans", sans-serif' font-size="8.3" fill="#262626" stroke="#262626" stroke-width="0.18">14.07524</text>
<text x="493.3" y="416.4" font-family='"Liberation Sans", sans-serif' font-size="8.3" fill="#262626" stroke="#262626" stroke-width="0.18">13.19750</text>
<text x="493.3" y="431.0" font-family='"Liberation Sans", sans-serif' font-size="8.3" fill="#262626" stroke="#262626" stroke-width="0.18">13.13574</text>
<text x="493.3" y="445.6" font-family='"Liberation Sans", sans-serif' font-size="8.3" fill="#262626" stroke="#262626" stroke-width="0.18">13.54431</text>
<text x="493.3" y="460.2" font-family='"Liberation Sans", sans-serif' font-size="8.3" fill="#262626" stroke="#262626" stroke-width="0.18">13.19758</text>
</svg></body></html>
